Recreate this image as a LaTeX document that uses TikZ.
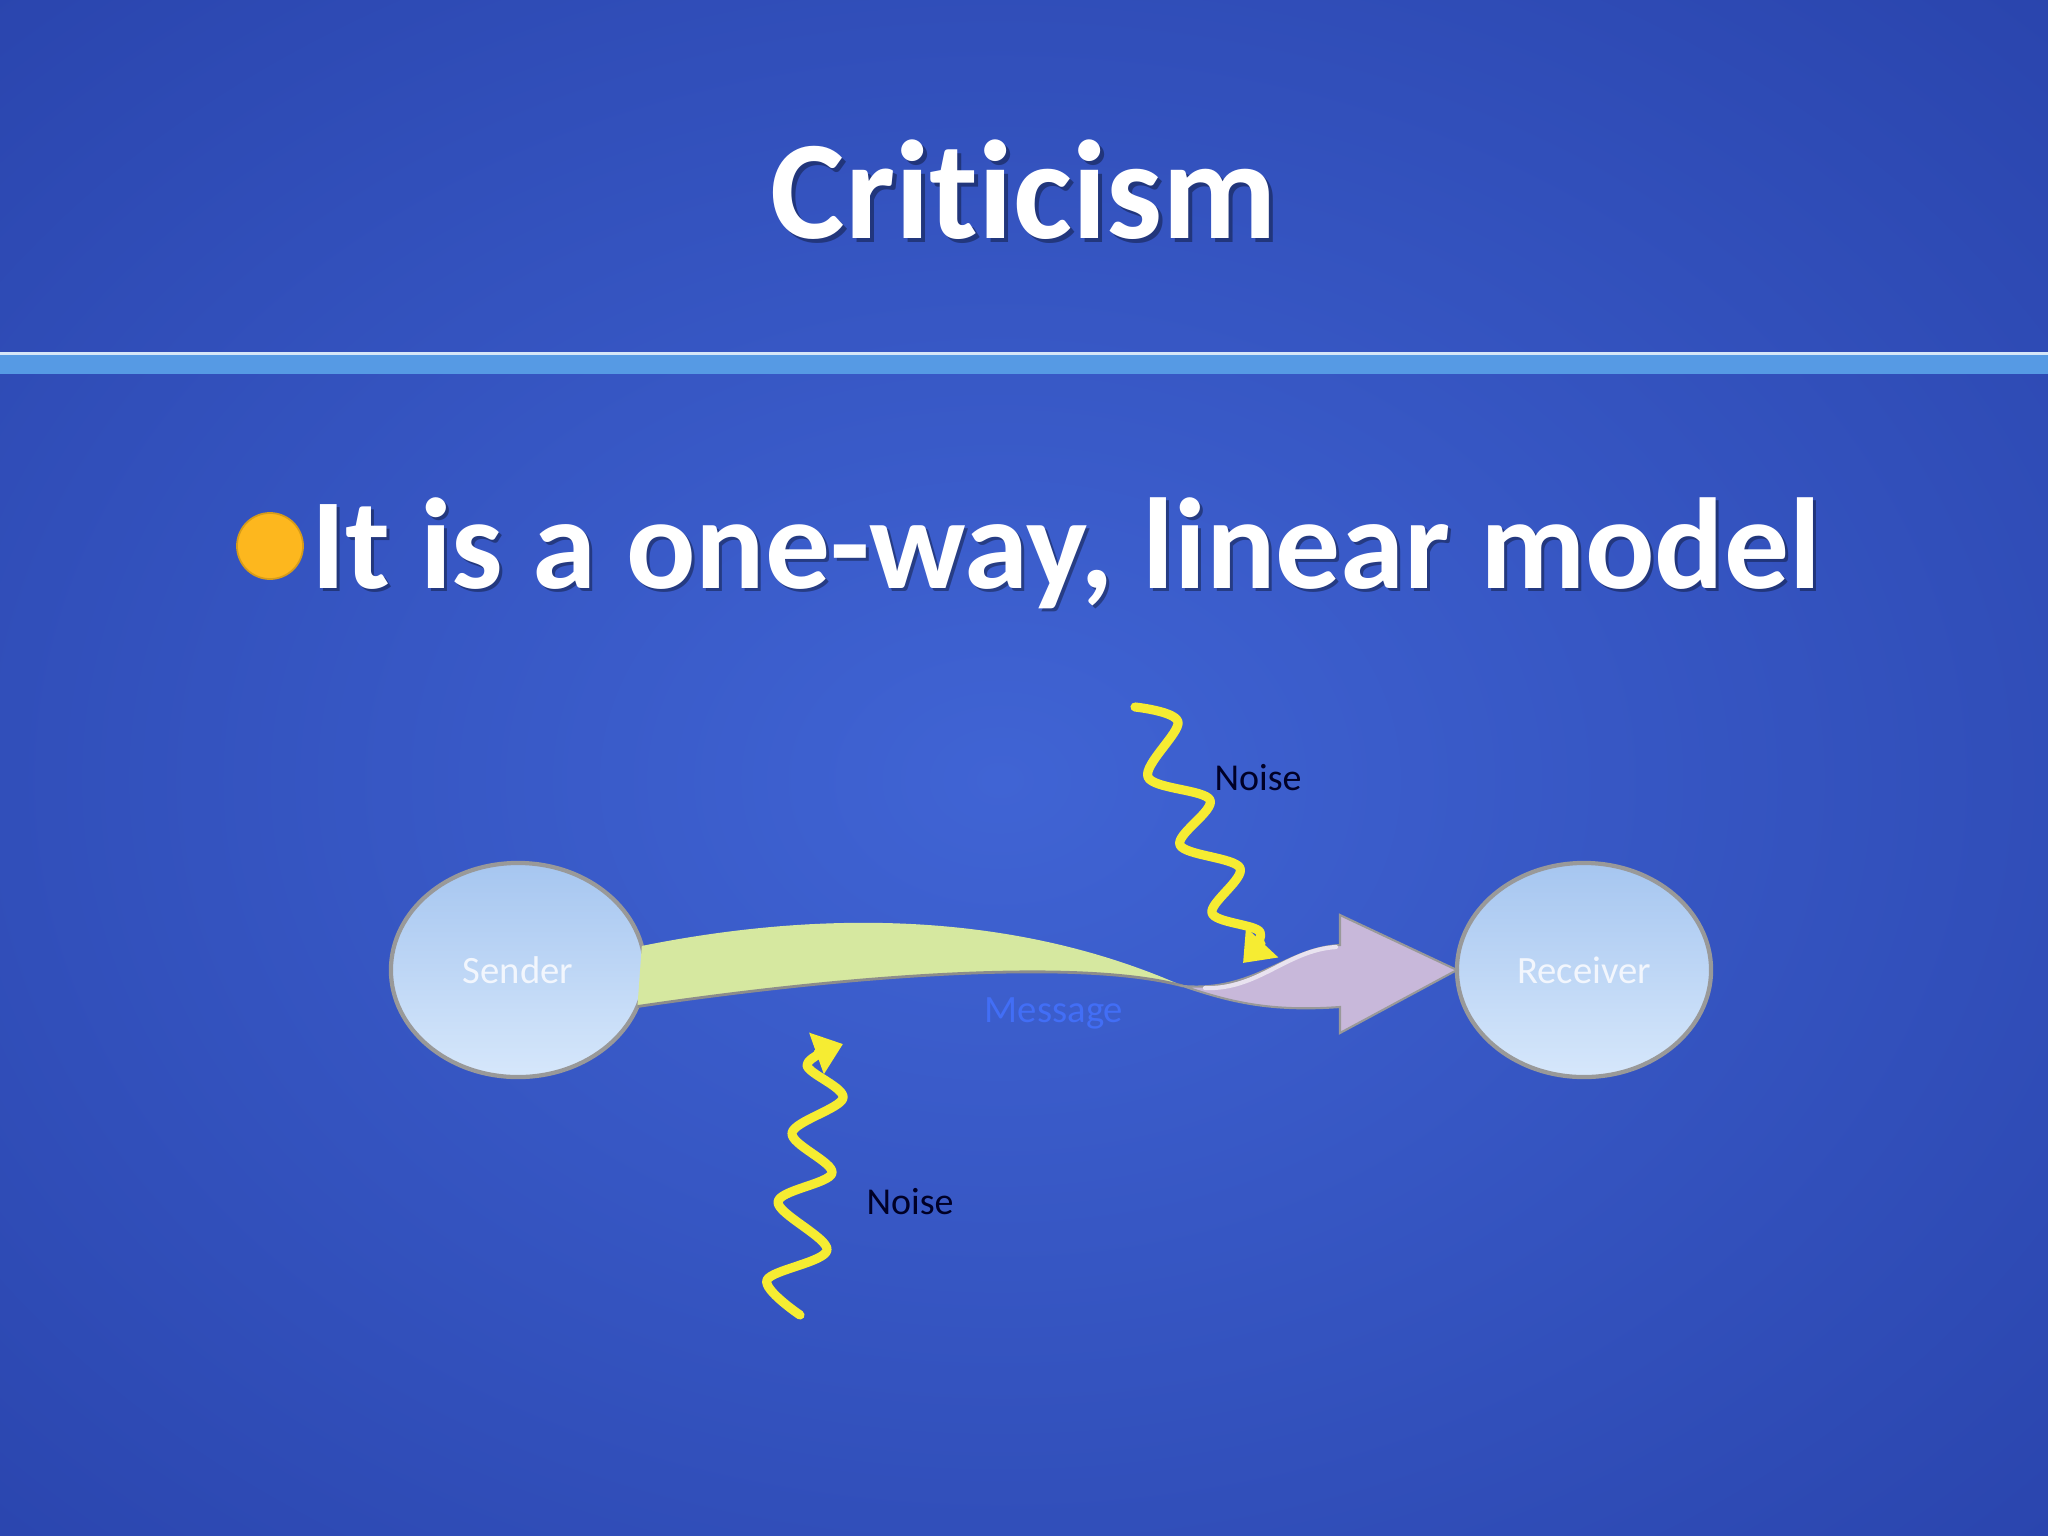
\documentclass[tikz,border=0pt]{standalone}
\usepackage{fontspec}
\setmainfont{Carlito}[Ligatures=NoCommon]
\usepackage{xcolor}
\usetikzlibrary{positioning,shapes.geometric,arrows.meta}
\definecolor{slidedark}{RGB}{40,66,170}
\definecolor{slideglow}{RGB}{64,100,212}
\definecolor{rulelight}{RGB}{86,154,228}
\definecolor{bulletorange}{RGB}{253,183,30}
\definecolor{msggreen}{RGB}{214,232,160}
\definecolor{msglilac}{RGB}{200,184,218}
\definecolor{noiseyellow}{RGB}{246,236,50}
\definecolor{bubbletop}{RGB}{166,198,240}
\definecolor{bubblebottom}{RGB}{214,231,251}
\definecolor{msgtext}{RGB}{66,110,246}

\begin{document}
\begin{tikzpicture}[x=0.01cm, y=-0.01cm,
  person/.style={ellipse, draw=black!40, line width=1.2pt, top color=bubbletop, bottom color=bubblebottom,
    minimum width=2.54cm, minimum height=2.14cm, inner sep=0pt, outer sep=0pt,
    font=\fontsize{11}{13}\selectfont, text=white!85!bubbletop},
  noisewave/.style={noiseyellow, line width=2.6pt, line cap=round, line join=round,
    -{Triangle[length=8pt,width=12pt]}},
  noiselabel/.style={font=\fontsize{10.8}{13}\selectfont, text=black!85!blue}]
\useasboundingbox (0,0) rectangle (2048,1536);

% Slide background
\fill[slidedark] (0,0) rectangle (2048,1536);
\shade[inner color=slideglow, outer color=slidedark] (1000,780) ellipse (16cm and 12cm);
\fill[rulelight] (0,355) rectangle (2048,374);
\draw[white!75!rulelight, line width=0.6pt] (0,353.5) -- (2048,353.5);

% Title
\node[font=\fontsize{40}{48}\selectfont\bfseries, text=black, opacity=0.35, anchor=base] at (1028,242) {Criticism};
\node[font=\fontsize{40}{48}\selectfont\bfseries, text=white, anchor=base] (title) at (1024,238) {Criticism};

% Bullet point
\node[circle, fill=bulletorange, draw=bulletorange!85!black, line width=0.5pt, minimum size=0.66cm, inner sep=0pt] (bullet) at (270,546) {};
\node[font=\fontsize{36.8}{44}\selectfont\bfseries, text=black, opacity=0.35, anchor=base west] at (302,591) {It is a one-way, linear model};
\node[font=\fontsize{36.8}{44}\selectfont\bfseries, text=white, anchor=base west] (point) at (299,588) {It is a one-way, linear model};

% Sender and Receiver
\node[person] (sender) at (518,970) {Sender};
\node[person] (receiver) at (1584,970) {Receiver};
\coordinate (twist) at (1183,986);

% Message band
\fill[msggreen] (sender.11) .. controls (800,914) and (1000,905) .. (twist)
  .. controls (1080,958) and (850,975) .. (sender.-17) -- cycle;
\draw[black!45, line width=0.8pt] (twist) .. controls (1080,958) and (850,975) .. (sender.-17);
\fill[msglilac, draw=black!40, line width=0.6pt] (twist) .. controls (1255,992) and (1285,948) .. (1340,945)
  -- (1340,915) -- (receiver.west) -- (1340,1033) -- (1340,1007)
  .. controls (1270,1012) and (1230,1002) .. (twist) -- cycle;
\draw[white!60!msglilac, line width=1.2pt, line cap=round] (1205,988) .. controls (1258,990) and (1287,950) .. (1336,947);
\node[text=msgtext, font=\fontsize{11}{13}\selectfont] (message) at (1054,1013) {Message};

% Noise
\draw[noisewave] plot[smooth, tension=0.55] coordinates {(1135,707) (1178,722) (1148,777) (1210,800) (1180,845) (1240,868) (1212,913) (1260,932) (1243,963)};
\node[noiselabel] (noisetop) at (1258,778) {Noise};
\draw[noisewave] plot[smooth, tension=0.55] coordinates {(800,1315) (767,1280) (827,1250) (778,1202) (832,1173) (792,1133) (843,1098) (807,1065) (843,1044)};
\node[noiselabel] (noisebottom) at (910,1202) {Noise};
\end{tikzpicture}
\end{document}
